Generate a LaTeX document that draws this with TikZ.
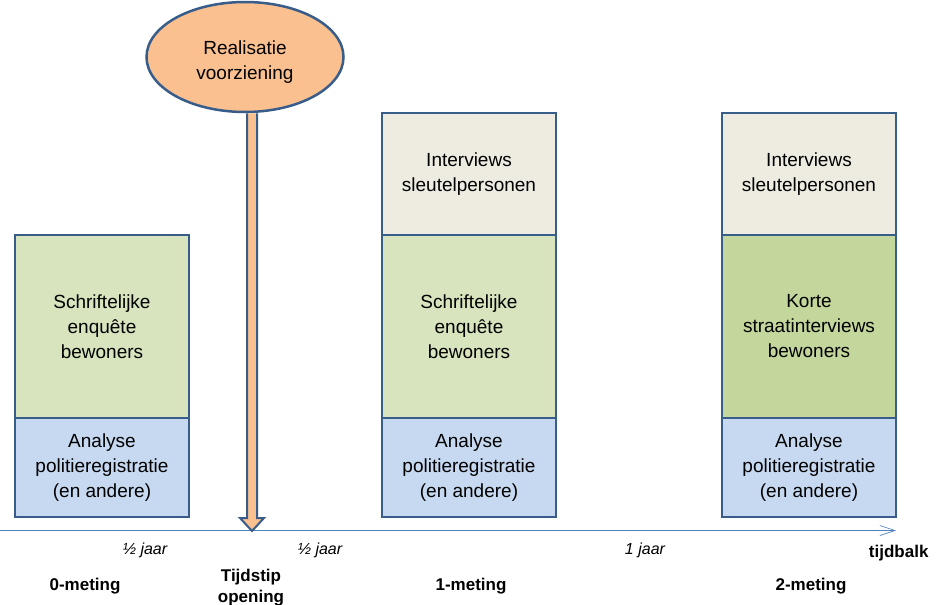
\documentclass[tikz,border=0pt]{standalone}
\usepackage{fontspec}
\setmainfont{Liberation Sans}
\usetikzlibrary{shapes.geometric,arrows.meta}
\definecolor{bord}{RGB}{56,93,138}
\definecolor{lgreen}{RGB}{215,228,189}
\definecolor{dgreen}{RGB}{195,214,155}
\definecolor{lblue}{RGB}{198,217,240}
\definecolor{beige}{RGB}{238,236,225}
\definecolor{orng}{RGB}{250,192,144}
\definecolor{axis}{RGB}{79,129,189}
\tikzset{
  cell/.style={draw=bord, line width=2.5pt, minimum width=174pt, inner sep=0pt, align=center, font=\fontsize{19}{25}\selectfont},
  lab/.style={font=\fontsize{16}{19}\selectfont\itshape},
  blab/.style={font=\fontsize{17}{21}\selectfont\bfseries, align=center},
}
\begin{document}
\begin{tikzpicture}[x=1pt,y=-1pt]
\useasboundingbox (0,0) rectangle (940,605);
% column 1
\node[cell, fill=lgreen, minimum height=183pt] (a1) at (102,326.5) {Schriftelijke\\enquête\\bewoners};
\node[cell, fill=lblue, minimum height=99pt] (a2) at (102,467.5) {Analyse\\politieregistratie\\(en andere)};
% column 2
\node[cell, fill=beige, minimum height=122pt] (b0) at (469,174) {Interviews\\sleutelpersonen};
\node[cell, fill=lgreen, minimum height=183pt] (b1) at (469,326.5) {Schriftelijke\\enquête\\bewoners};
\node[cell, fill=lblue, minimum height=99pt] (b2) at (469,467.5) {Analyse\\politieregistratie\\(en andere)};
% column 3
\node[cell, fill=beige, minimum height=122pt] (c0) at (809,174) {Interviews\\sleutelpersonen};
\node[cell, fill=dgreen, minimum height=183pt] (c1) at (809,326.5) {Korte\\straatinterviews\\bewoners};
\node[cell, fill=lblue, minimum height=99pt] (c2) at (809,467.5) {Analyse\\politieregistratie\\(en andere)};
% timeline
\coordinate (t0) at (0,530.5);
\coordinate (t1) at (896,530.5);
\draw[axis, line width=0.9pt, -{Straight Barb[length=15pt,width=10pt,line width=0.7pt]}] (t0) -- (t1);
% ellipse
\node[ellipse, draw=bord, line width=2.5pt, fill=orng, minimum width=197pt, minimum height=110pt, inner sep=0pt] (e) at (245,57) {};
\node[align=center, font=\fontsize{19}{25}\selectfont] (et) at (245,62) {Realisatie\\voorziening};
% arrow from ellipse to timeline
\coordinate (tip) at (252,531);
\filldraw[draw=bord, fill=orng, line width=2pt, line join=miter]
  (e.south -| 247,0) -- (247,518) -- (240,518) -- (tip) -- (264,518) -- (257,518) -- (e.south -| 257,0);
% labels
\node[lab] (l1) at (145,550) {½ jaar};
\node[lab] (l2) at (320,550) {½ jaar};
\node[lab] (l3) at (645,550) {1 jaar};
\node[blab, anchor=east] (tb) at (932,553) {tijdbalk};
\node[blab] (m0) at (85,586) {0-meting};
\node[blab] (to) at (251,587.5) {Tijdstip\\opening};
\node[blab] (m1) at (471,586) {1-meting};
\node[blab] (m2) at (811,586) {2-meting};
\end{tikzpicture}
\end{document}
